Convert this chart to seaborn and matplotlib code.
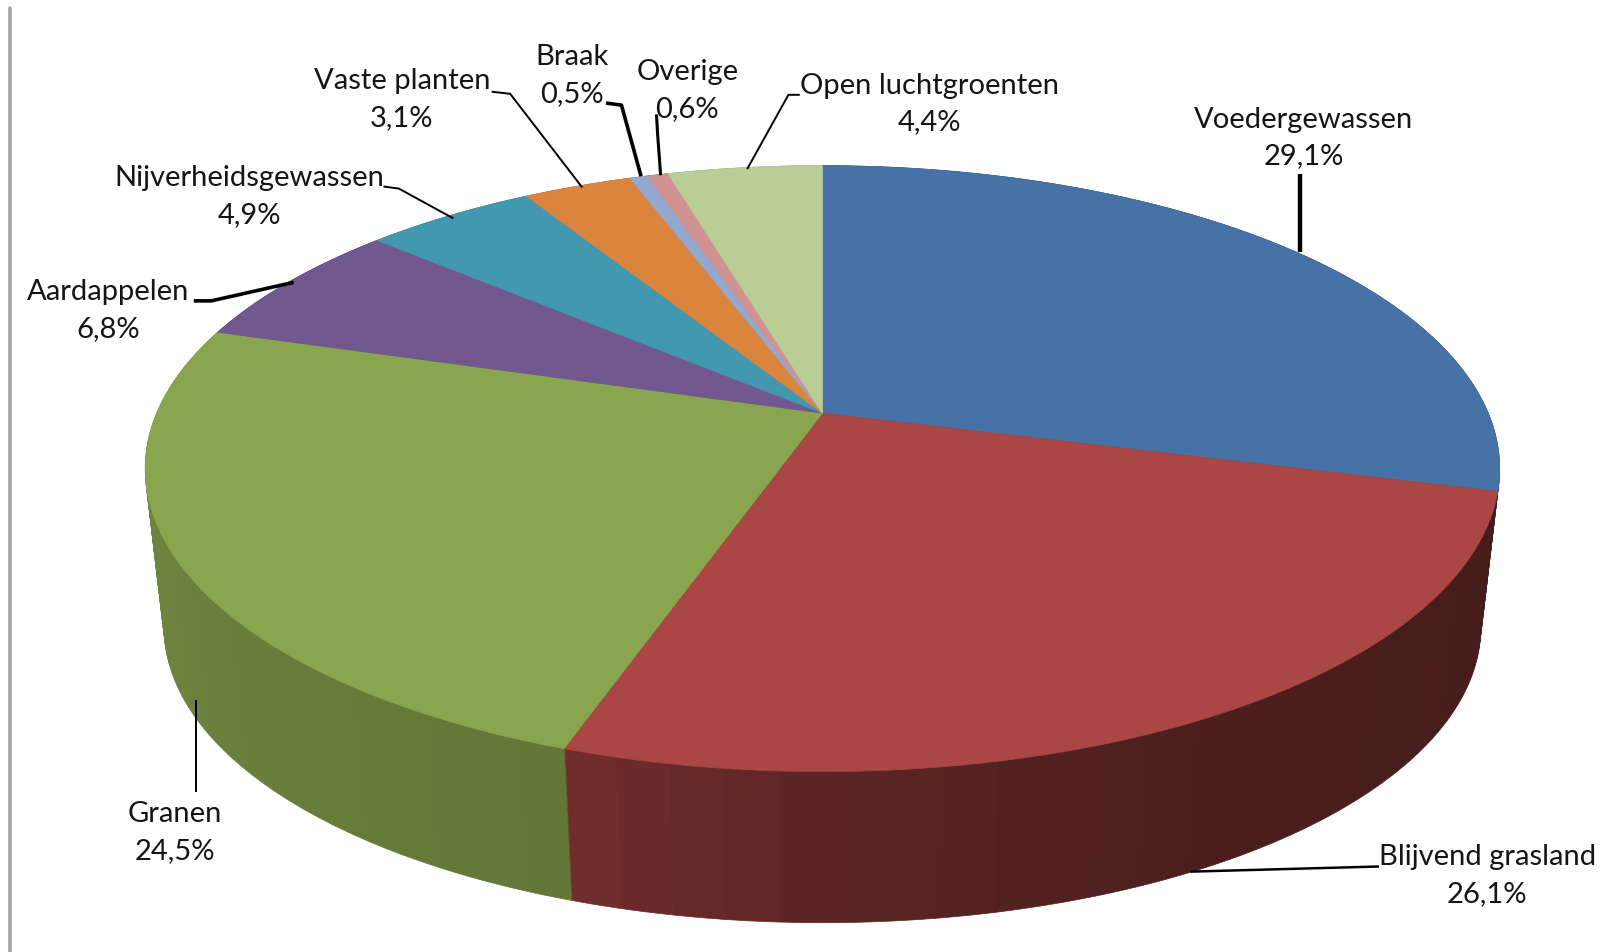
import numpy as np
import seaborn as sns
import matplotlib.pyplot as plt
from matplotlib.path import Path
from matplotlib.transforms import Affine2D, Transform

names = ["Voedergewassen", "Blijvend grasland", "Granen", "Aardappelen", "Nijverheidsgewassen",
         "Vaste planten", "Braak", "Overige", "Open luchtgroenten"]
values = [29.1, 26.1, 24.5, 6.8, 4.9, 3.1, 0.5, 0.6, 4.4]

sns.set_theme(style="white")
plt.rcParams["font.family"] = ["Lato", "DejaVu Sans"]

pal = sns.color_palette(["#4672A8", "#AA4643", "#89A54E", "#71588F", "#4198AF",
                         "#DB843D", "#93A9CF", "#D19392", "#B9CD96"])
wall_from = [0.50, 0.42, 0.72, 0.7, 0.7, 0.7, 0.7, 0.7, 0.7]
wall_to = [0.50, 0.65, 0.85, 0.7, 0.7, 0.7, 0.7, 0.7, 0.7]
wall_pow = [1, 3, 1, 1, 1, 1, 1, 1, 1]


# unit circle -> tilted disc with perspective, result in picture coordinates
class Disc(Transform):
    input_dims = 2
    output_dims = 2

    def __init__(self, a, b, k, x0, y0):
        super().__init__()
        self.a, self.b, self.k, self.x0, self.y0 = a, b, k, x0, y0

    def transform_non_affine(self, xy):
        xy = np.asarray(xy)
        d = 1 + self.k * xy[:, 1]
        return np.column_stack([self.x0 + self.a * xy[:, 0] / d, self.y0 - self.b * xy[:, 1] / d])

    def transform_path_non_affine(self, path):
        # flatten the arcs first, beziers do not survive the perspective
        poly = path.transformed(Affine2D().scale(2000)).to_polygons(closed_only=False)[0] / 2000
        return Path(self.transform_non_affine(poly))


def draw_pie(ax, vals, cols, a, b, y0):
    wedges, _ = ax.pie(vals, colors=cols, startangle=90, counterclock=False)
    tr = Disc(a, b, 0.183, 798, y0) + ax.transData
    for w in wedges:
        w.set_transform(tr)
        w.set_edgecolor(w.get_facecolor())
        w.set_linewidth(0.5)


fig, ax = plt.subplots(figsize=(16.16, 9.53), dpi=100)
fig.subplots_adjust(0, 0, 1, 1)

# side wall: stacked discs from the bottom up, banded along the rim
n_band = 24
wall_vals = []
wall_cols = []
for i, v in enumerate(values):
    wall_vals += [v / n_band] * n_band
    for t in np.linspace(0, 1, n_band):
        s = wall_from[i] + (wall_to[i] - wall_from[i]) * t ** wall_pow[i]
        wall_cols.append(tuple(c * s for c in pal[i]))

for t in np.linspace(0, 1, 80):
    draw_pie(ax, wall_vals, wall_cols, 628 + t * (646 - 628), 277 + t * (284.2 - 277), 557.5 + t * (402 - 557.5))

draw_pie(ax, values, pal, 646, 284.2, 402)

ax.set_aspect("auto")
ax.set_xlim(0, 1568)
ax.set_ylim(925, 0)
ax.axis("off")

# label centres and leader lines
label_x = [1265, 1443, 170, 105, 242, 390, 555, 667, 902]
label_y = [134, 850, 808, 301, 191, 97, 73, 88, 101]
leaders = [
    ([1261, 1261], [170, 246], 3.2),
    ([1338, 1155], [842, 847], 1.8),
    ([190, 190], [770, 680], 1.4),
    ([188, 205, 285], [293, 293, 275], 2.6),
    ([372, 387, 440], [182, 184, 213], 1.4),
    ([477, 495, 565], [90, 92, 183], 1.4),
    ([588, 603, 622], [101, 103, 172], 2.6),
    ([637, 638, 641], [112, 130, 171], 2.2),
    ([776, 765, 725], [93, 93, 165], 1.4),
]

for name, v, x, y in zip(names, values, label_x, label_y):
    ax.text(x, y, name + "\n" + f"{v:.1f}%".replace(".", ","), ha="center", va="center",
            fontsize=21, color="#151515", linespacing=1.52)
for lx, ly, lw in leaders:
    ax.plot(lx, ly, color="black", lw=lw, solid_capstyle="butt")

ax.plot([9.7, 9.7], [9, 925], color="#a6a6a6", lw=2.6)

fig.savefig("out.png", dpi=100)
